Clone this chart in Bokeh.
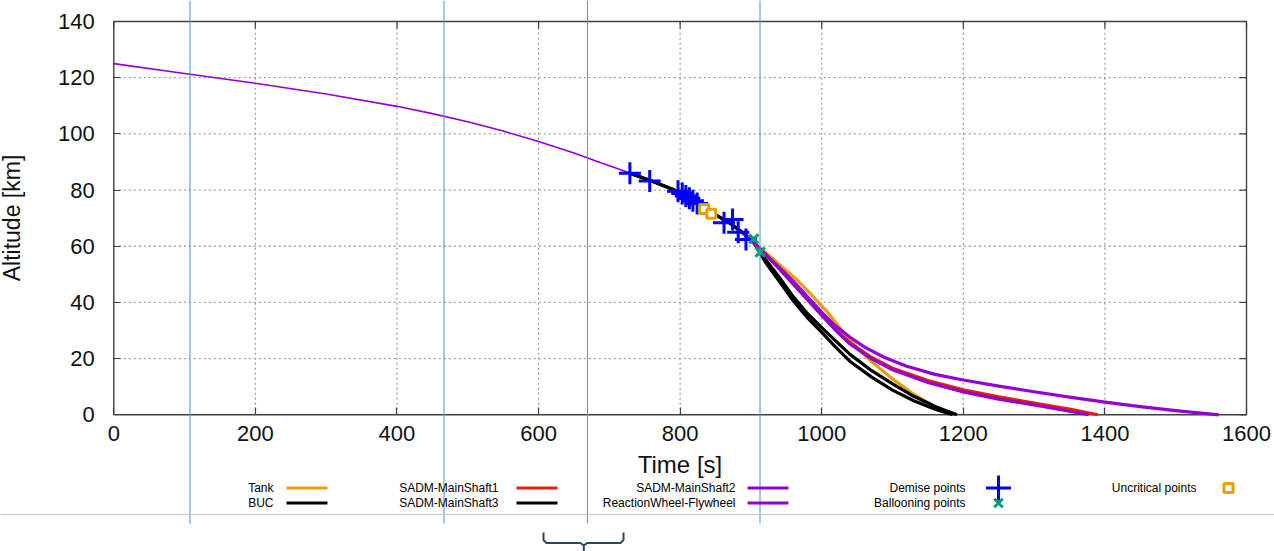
from bokeh.plotting import figure
from bokeh.models import LinearAxis, FixedTicker, Span
from bokeh.core.properties import value
from bokeh.embed import file_html
from bokeh.resources import INLINE

# ---------------- data ----------------
x_ticks = [0, 200, 400, 600, 800, 1000, 1200, 1400, 1600]
y_ticks = [0, 20, 40, 60, 80, 100, 120, 140]

# common trajectory before fragmentation
traj_t = [0, 100, 200, 300, 400, 450, 500, 550, 600, 650, 687, 730]
traj_alt = [125.0, 121.5, 118.0, 114.2, 109.8, 107.2, 104.3, 101.0, 97.3, 93.2, 89.8, 86.0]

# shared path of the fragments after the first demise point
shared_t = [729, 760, 790, 810, 830, 850, 870, 890, 905]
shared_alt = [86.0, 83.2, 80.2, 77.6, 74.6, 71.2, 68.3, 64.5, 61.0]

tank_t = [890, 913, 940, 966, 990, 1010, 1030, 1050, 1070, 1100, 1130, 1160, 1183]
tank_alt = [64.5, 59.5, 53.5, 47.8, 41.5, 36.0, 29.5, 23.8, 19.0, 12.8, 7.3, 2.9, 0.0]

buc_t = [920, 940, 960, 980, 1000, 1020, 1040, 1070, 1100, 1130, 1160, 1191]
buc_alt = [55.5, 49.0, 42.0, 36.0, 31.0, 26.2, 21.5, 15.8, 11.0, 6.6, 3.0, 0.0]

ms1_t = [890, 913, 940, 960, 980, 1000, 1020, 1040, 1070, 1100, 1150, 1200, 1250, 1300, 1350, 1390]
ms1_alt = [64.5, 59.0, 52.0, 46.5, 41.0, 35.5, 30.2, 25.6, 20.5, 16.6, 12.2, 8.9, 6.4, 4.2, 2.0, 0.0]

ms3_t = [920, 940, 960, 980, 1000, 1020, 1040, 1070, 1100, 1130, 1160, 1185]
ms3_alt = [54.5, 47.5, 40.5, 34.5, 29.3, 24.0, 19.0, 13.5, 8.8, 5.0, 2.0, 0.0]

ms2_t = [890, 913, 940, 960, 980, 1000, 1020, 1040, 1070, 1100, 1150, 1200, 1250, 1300, 1340, 1377]
ms2_alt = [64.5, 59.0, 52.0, 46.5, 41.0, 35.5, 30.0, 25.2, 20.0, 16.0, 11.5, 8.1, 5.6, 3.5, 1.7, 0.0]

rw_t = [890, 913, 940, 960, 980, 1000, 1020, 1040, 1060, 1088, 1120, 1160, 1200, 1250, 1300, 1350, 1400, 1450, 1500, 1561]
rw_alt = [64.5, 59.0, 52.5, 47.5, 42.0, 36.5, 31.5, 27.6, 24.2, 20.5, 17.3, 14.4, 12.4, 10.2, 8.2, 6.3, 4.5, 2.9, 1.5, 0.0]

demise_t = [729, 757, 797, 803, 808, 813, 818, 824, 862, 874, 882, 893]
demise_alt = [86.0, 83.2, 79.6, 78.8, 77.9, 77.1, 76.2, 75.2, 68.4, 69.5, 65.0, 62.4]

balloon_t = [904, 913]
balloon_alt = [62.6, 57.9]

uncrit_t = [834, 844]
uncrit_alt = [73.3, 71.6]

# overlay marks (vertical guide lines) at these times
highlight_times = [107.6, 466.4, 669.1, 912.8]

series_labels = ["Tank", "BUC", "SADM-MainShaft1", "SADM-MainShaft3",
                 "SADM-MainShaft2", "ReactionWheel-Flywheel"]
series_colors = ["#e69f00", "#000000", "#e51e10", "#000000", "#9400d3", "#9400d3"]
point_labels = ["Demise points", "Ballooning points", "Uncritical points"]

# ---------------- layout calibration (screen pixels of the picture) ----------------
W, H = 1274, 551
X0_PX, X1600_PX = 113.3, 1246.0
Y0_PX, Y140_PX = 414.3, 21.0
SX = (X1600_PX - X0_PX) / (x_ticks[-1] - x_ticks[0])
SY = (Y0_PX - Y140_PX) / (y_ticks[-1] - y_ticks[0])


def tx(px):
    return (px - X0_PX) / SX


def ay(py):
    return (Y0_PX - py) / SY


x_lo, x_hi = tx(0), tx(W)
y_lo, y_hi = ay(H), ay(0)

p = figure(width=W, height=H, x_range=(x_lo, x_hi), y_range=(y_lo, y_hi),
           x_axis_type=None, y_axis_type=None, toolbar_location=None,
           output_backend="svg", min_border=0, outline_line_color=None,
           background_fill_color="white", border_fill_color="white")

FONT = "Liberation Sans"
TXT = "#111111"

# grid (interior ticks only, dotted)
gx = x_ticks[1:-1]
gy = y_ticks[1:-1]
p.segment(x0=gx, y0=[y_ticks[0]] * len(gx), x1=gx, y1=[y_ticks[-1]] * len(gx),
          line_color="#a0a0a0", line_width=1.3, line_dash="2 3")
p.segment(x0=[x_ticks[0]] * len(gy), y0=gy, x1=[x_ticks[-1]] * len(gy), y1=gy,
          line_color="#a0a0a0", line_width=1.3, line_dash="2 3")

# border box
p.quad(left=[x_ticks[0]], right=[x_ticks[-1]], bottom=[y_ticks[0]], top=[y_ticks[-1]],
       fill_color=None, line_color="#404040", line_width=1.4)

# mirrored inward ticks on top and right borders
TL = 7
p.segment(x0=x_ticks, y0=[y_ticks[-1]] * len(x_ticks), x1=x_ticks,
          y1=[y_ticks[-1] - TL / SY] * len(x_ticks), line_color="#404040", line_width=1.2)
p.segment(x0=[x_ticks[-1]] * len(y_ticks), y0=y_ticks, x1=[x_ticks[-1] - TL / SX] * len(y_ticks),
          y1=y_ticks, line_color="#404040", line_width=1.2)

# axes at fixed locations
xaxis = LinearAxis(fixed_location=0, bounds=(x_ticks[0], x_ticks[-1]),
                   ticker=FixedTicker(ticks=x_ticks), axis_label="Time [s]")
yaxis = LinearAxis(fixed_location=0, bounds=(y_ticks[0], y_ticks[-1]),
                   ticker=FixedTicker(ticks=y_ticks), axis_label="Altitude [km]")
for ax, st, lst, lsz in ((xaxis, 11, 7, "24px"), (yaxis, 19, 30, "23px")):
    ax.axis_line_color = None
    ax.major_tick_in = TL
    ax.major_tick_out = 0
    ax.major_tick_line_color = "#404040"
    ax.major_tick_line_width = 1.2
    ax.minor_tick_line_color = None
    ax.major_label_text_font = FONT
    ax.major_label_text_font_size = "22px"
    ax.major_label_text_color = TXT
    ax.major_label_standoff = st
    ax.axis_label_text_font = FONT
    ax.axis_label_text_font_size = lsz
    ax.axis_label_text_font_style = "normal"
    ax.axis_label_text_color = TXT
    ax.axis_label_standoff = lst
p.add_layout(xaxis, "below")
p.add_layout(yaxis, "left")

# curves
p.line(traj_t, traj_alt, line_color="#9400d3", line_width=1.6)
curves = [
    (tank_t, tank_alt),
    (shared_t + buc_t, shared_alt + buc_alt),
    (ms1_t, ms1_alt),
    (shared_t + ms3_t, shared_alt + ms3_alt),
    (ms2_t, ms2_alt),
    (rw_t, rw_alt),
]
for (ct, ca), col in zip(curves, series_colors):
    p.line(ct, ca, line_color=col, line_width=3.2, line_join="round")

# points
p.scatter(demise_t, demise_alt, marker="cross", size=22, line_color="#0000ff", line_width=3)
p.scatter(uncrit_t, uncrit_alt, marker="square", size=9, fill_color="white",
          line_color="#e69f00", line_width=3)
p.scatter(balloon_t, balloon_alt, marker="x", size=13, line_color="#009e73", line_width=3)

# overlay guide lines and separator
p.segment(x0=highlight_times, y0=[ay(523)] * len(highlight_times), x1=highlight_times,
          y1=[y_hi] * len(highlight_times), line_color="#5b9bd5", line_width=1.1)
p.add_layout(Span(location=ay(514), dimension="width", line_color="#c8c8c8", line_width=1.2))

# legend (gnuplot-style key below the plot)
row_y = [ay(487.5), ay(502.5)]
text_right_px = [273, 498, 735, 965, 1196]
sample_px = [(286, 327), (516, 557), (747, 788)]
lx, ly, ltxt = [], [], []
for i, lab in enumerate(series_labels):
    c, r = divmod(i, 2)
    lx.append(tx(text_right_px[c]))
    ly.append(row_y[r])
    ltxt.append(lab)
    a, b = sample_px[c]
    p.segment(x0=[tx(a)], y0=[row_y[r]], x1=[tx(b)], y1=[row_y[r]],
              line_color=series_colors[i], line_width=3.2)
for i, lab in enumerate(point_labels):
    c, r = divmod(i, 2)
    lx.append(tx(text_right_px[3 + c]))
    ly.append(row_y[r])
    ltxt.append(lab)
p.text(x=lx, y=ly, text=ltxt, text_align="right", text_baseline="middle",
       text_font=value(FONT), text_font_size="12px", text_color="#000000")
p.scatter([tx(998)], [row_y[0]], marker="cross", size=25, line_color="#0000ff", line_width=3)
p.scatter([tx(998)], [row_y[1]], marker="x", size=12, line_color="#009e73", line_width=3)
p.scatter([tx(1228)], [row_y[0]], marker="square", size=9, fill_color="white",
          line_color="#e69f00", line_width=3)

# brace below
bx = [543, 543, 546, 580, 583.3, 583.3, 583.3, 586.6, 620, 623, 623]
by = [532, 539.5, 542.5, 542.5, 545, 551, 545, 542.5, 542.5, 539.5, 532]
p.line([tx(v) for v in bx], [ay(v) for v in by], line_color="#244a5e", line_width=2)

open("out.html", "w").write(file_html(p, INLINE))
